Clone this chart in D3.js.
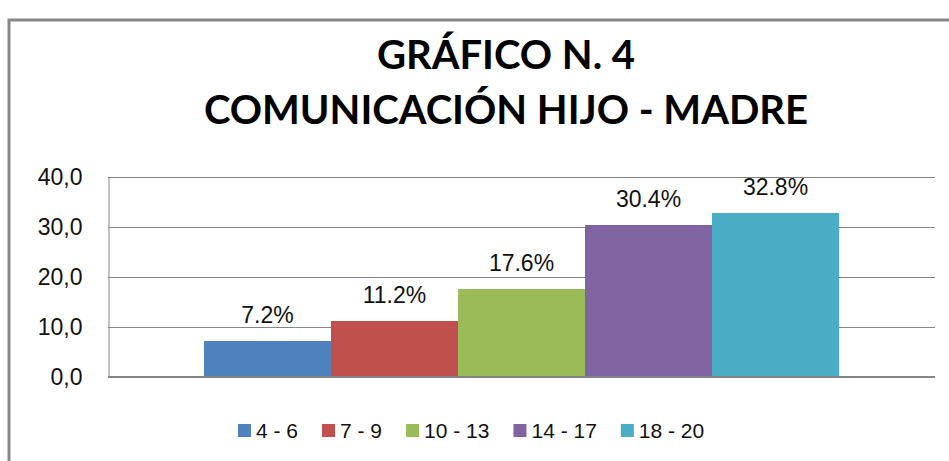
<!DOCTYPE html>
<html>
<head>
<meta charset="utf-8">
<script src="https://cdn.jsdelivr.net/npm/d3@7"></script>
<style>
  html, body { margin: 0; padding: 0; background: #fff; }
  svg { display: block; }
</style>
</head>
<body>
<svg id="chart" width="949" height="461"></svg>
<script>
// data
const titleLines = ["GRÁFICO N. 4", "COMUNICACIÓN HIJO - MADRE"];
const series = ["4 - 6", "7 - 9", "10 - 13", "14 - 17", "18 - 20"];
const values = [7.2, 11.2, 17.6, 30.4, 32.8];
const colors = ["#4f81bd", "#c0504d", "#9bbb59", "#8064a2", "#4bacc6"];
const yTicks = [0, 10, 20, 30, 40];

var svg = d3.select("#chart");

// outer chart frame (runs off the right and bottom edge)
svg.append("rect")
    .attr("x", 9).attr("y", 20)
    .attr("width", 960).attr("height", 460)
    .attr("fill", "none")
    .attr("stroke", "#888")
    .attr("stroke-width", 3);

// title
svg.selectAll("text.title")
    .data(titleLines)
    .enter()
    .append("text")
    .attr("class", "title")
    .attr("x", 506)
    .attr("y", (d, i) => 69 + i * 55)
    .attr("text-anchor", "middle")
    .style("font-family", "Lato, sans-serif")
    .style("font-weight", "bold")
    .style("font-size", "40px")
    .style("fill", "#000")
    .text(d => d);

var margin = {left: 108, right: 935, top: 177, bottom: 377};

var y = d3.scaleLinear()
    .domain([0, 40])
    .range([margin.bottom, margin.top]);

var x = d3.scaleBand()
    .domain(series)
    .range([margin.left, margin.right])
    .paddingInner(0)
    .paddingOuter(0.756);

// gridlines
svg.append("g")
    .selectAll("line")
    .data(yTicks.slice(1))
    .enter()
    .append("line")
    .attr("x1", margin.left).attr("x2", margin.right)
    .attr("y1", d => y(d) + 0.5).attr("y2", d => y(d) + 0.5)
    .attr("stroke", "#868686")
    .attr("stroke-width", 1);

// y axis
var yAxis = svg.append("g")
    .attr("transform", "translate(" + (margin.left + 0.5) + ",0)")
    .call(d3.axisLeft(y).tickValues(yTicks).tickSize(0).tickPadding(26)
        .tickFormat(d => d3.format(".1f")(d).replace(".", ",")));
yAxis.select(".domain").attr("stroke", "#868686");
yAxis.selectAll("text")
    .style("font-family", "'Liberation Sans', Arial, sans-serif")
    .style("font-size", "23px")
    .style("fill", "#111");

// bars
svg.append("g")
    .selectAll("rect")
    .data(values)
    .enter()
    .append("rect")
    .attr("x", (d, i) => x(series[i]))
    .attr("y", d => y(d))
    .attr("width", x.bandwidth())
    .attr("height", d => y(0) - y(d))
    .attr("fill", (d, i) => colors[i]);

// base axis line
svg.append("line")
    .attr("x1", margin.left).attr("x2", margin.right)
    .attr("y1", y(0)).attr("y2", y(0))
    .attr("stroke", "#868686")
    .attr("stroke-width", 2);

// value labels
svg.append("g")
    .selectAll("text")
    .data(values)
    .enter()
    .append("text")
    .attr("x", (d, i) => x(series[i]) + x.bandwidth() / 2)
    .attr("y", d => y(d) - 18)
    .attr("text-anchor", "middle")
    .style("font-family", "'Liberation Sans', Arial, sans-serif")
    .style("font-size", "23px")
    .style("fill", "#111")
    .text(d => d.toFixed(1) + "%");

// legend
var legend = svg.append("g");
var items = legend.selectAll("g")
    .data(series)
    .enter()
    .append("g");
items.append("rect")
    .attr("width", 13).attr("height", 13)
    .attr("y", -7)
    .attr("fill", (d, i) => colors[i]);
items.append("text")
    .attr("x", 18)
    .attr("y", 0)
    .attr("dy", "0.35em")
    .style("font-family", "'Liberation Sans', Arial, sans-serif")
    .style("font-size", "21px")
    .style("fill", "#111")
    .text(d => d);

var lx = 238;
items.each(function() {
    var w = d3.select(this).select("text").node().getComputedTextLength();
    d3.select(this).attr("transform", "translate(" + lx + ",431)");
    lx += 18 + w + 24;
});
</script>
</body>
</html>
